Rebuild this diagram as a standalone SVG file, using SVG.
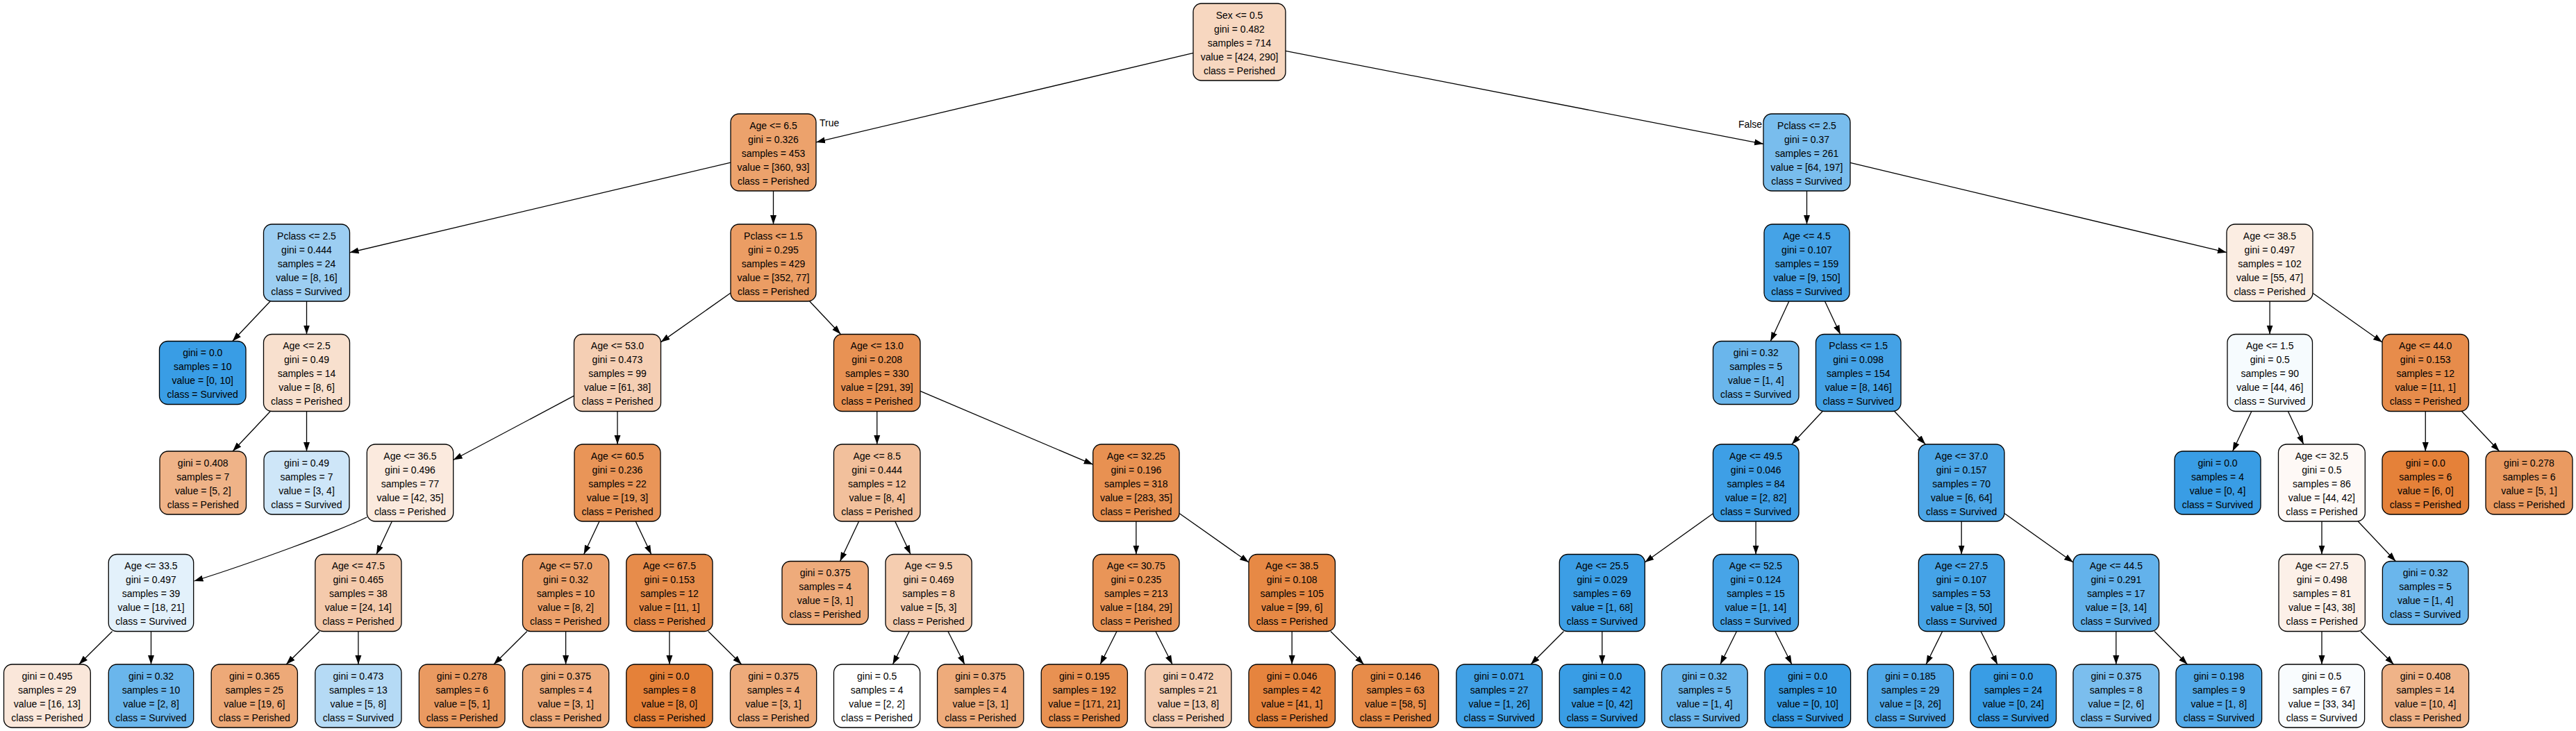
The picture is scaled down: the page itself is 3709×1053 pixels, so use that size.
<svg xmlns="http://www.w3.org/2000/svg" width="3709" height="1053" viewBox="0 0 3709 1053">
<defs>
<style>
.n rect{stroke:#000;stroke-width:1.3}
text{font-family:"Liberation Sans",Arial,Helvetica,sans-serif;font-size:14px;text-anchor:middle;fill:#000}
.lbl{text-anchor:start}
.e line,.e path{stroke:#000;stroke-width:1.3;fill:none;marker-end:url(#a)}
</style>
<marker id="a" markerWidth="13" markerHeight="10" refX="13" refY="5" orient="auto" markerUnits="userSpaceOnUse"><path d="M0,0.5 L13,5 L0,9.5 z" fill="#000"/></marker>
</defs>
<rect width="3709" height="1053" fill="#fff"/>
<g id="connectors" class="e">
<line x1="1718" y1="76.26" x2="1175" y2="204.93"/>
<line x1="1851" y1="73.44" x2="2539" y2="207.34"/>
<line x1="1052" y1="234.05" x2="503.5" y2="363.83"/>
<line x1="1113.5" y1="275" x2="1113.5" y2="323"/>
<line x1="389.07" y1="434" x2="334.73" y2="491.5"/>
<line x1="441.5" y1="434" x2="441.5" y2="481.5"/>
<line x1="1052" y1="421.92" x2="951.5" y2="492.87"/>
<line x1="1165.76" y1="434" x2="1210.49" y2="481.5"/>
<line x1="389.24" y1="592.5" x2="335.09" y2="650"/>
<line x1="441.5" y1="592.5" x2="441.5" y2="650"/>
<line x1="826.5" y1="570.19" x2="652.7" y2="662.47"/>
<line x1="889" y1="592.5" x2="889" y2="640"/>
<line x1="1262.75" y1="592.5" x2="1262.75" y2="640"/>
<line x1="1325" y1="563.44" x2="1573.7" y2="669.1"/>
<path d="M528.3,745 C490,764 360,812 279.5,837"/>
<line x1="564.39" y1="751" x2="542.01" y2="798.5"/>
<line x1="862.96" y1="751" x2="840.64" y2="798.5"/>
<line x1="915.2" y1="751" x2="937.7" y2="798.5"/>
<line x1="1236.62" y1="751" x2="1209.53" y2="808.5"/>
<line x1="1288.77" y1="751" x2="1311.08" y2="798.5"/>
<line x1="1635.85" y1="751" x2="1635.85" y2="798.5"/>
<line x1="1698" y1="739.41" x2="1798" y2="810.06"/>
<line x1="161.59" y1="909.5" x2="113.74" y2="957"/>
<line x1="217.5" y1="909.5" x2="217.5" y2="957"/>
<line x1="459.99" y1="909.5" x2="412.14" y2="957"/>
<line x1="515.9" y1="909.5" x2="515.9" y2="957"/>
<line x1="758.77" y1="909.5" x2="710.98" y2="957"/>
<line x1="814.6" y1="909.5" x2="814.6" y2="957"/>
<line x1="963.9" y1="909.5" x2="963.9" y2="957"/>
<line x1="1019.84" y1="909.5" x2="1067.73" y2="957"/>
<line x1="1309.26" y1="909.5" x2="1285.43" y2="957"/>
<line x1="1364.98" y1="909.5" x2="1388.84" y2="957"/>
<line x1="1607.99" y1="909.5" x2="1584.14" y2="957"/>
<line x1="1663.93" y1="909.5" x2="1687.97" y2="957"/>
<line x1="1860.2" y1="909.5" x2="1860.2" y2="957"/>
<line x1="1915.92" y1="909.5" x2="1963.62" y2="957"/>
<line x1="2601.5" y1="275" x2="2601.5" y2="323"/>
<line x1="2664" y1="234.41" x2="3206" y2="363.71"/>
<line x1="2575.86" y1="434" x2="2549.28" y2="491.5"/>
<line x1="2627.49" y1="434" x2="2649.76" y2="481.5"/>
<line x1="3268.1" y1="434" x2="3268.1" y2="481.5"/>
<line x1="3330" y1="422.32" x2="3430" y2="493"/>
<line x1="2624.12" y1="592.5" x2="2579.88" y2="640"/>
<line x1="2727.71" y1="592.5" x2="2772.24" y2="640"/>
<line x1="3241.91" y1="592.5" x2="3214.6" y2="650"/>
<line x1="3294.38" y1="592.5" x2="3316.77" y2="640"/>
<line x1="3492.25" y1="592.5" x2="3492.25" y2="650"/>
<line x1="3544.49" y1="592.5" x2="3598.66" y2="650"/>
<line x1="2466.5" y1="739.7" x2="2368.3" y2="809.98"/>
<line x1="2528.1" y1="751" x2="2528.1" y2="798.5"/>
<line x1="2824.2" y1="751" x2="2824.2" y2="798.5"/>
<line x1="2886" y1="739.5" x2="2985" y2="810"/>
<line x1="3343" y1="751" x2="3343" y2="798.5"/>
<line x1="3395.16" y1="751" x2="3449.35" y2="808.5"/>
<line x1="2251.45" y1="909.5" x2="2204.08" y2="957"/>
<line x1="2306.8" y1="909.5" x2="2306.8" y2="957"/>
<line x1="2500.48" y1="909.5" x2="2476.92" y2="957"/>
<line x1="2555.95" y1="909.5" x2="2579.88" y2="957"/>
<line x1="2796.73" y1="909.5" x2="2773.22" y2="957"/>
<line x1="2852.08" y1="909.5" x2="2875.94" y2="957"/>
<line x1="3046.8" y1="909.5" x2="3046.8" y2="957"/>
<line x1="3102.11" y1="909.5" x2="3149.45" y2="957"/>
<line x1="3343" y1="909.5" x2="3343" y2="957"/>
<line x1="3398.83" y1="909.5" x2="3446.5" y2="957"/>
</g>
<g id="edge-labels">
<text class="lbl" x="1180" y="181.7">True</text>
<text x="2520" y="184.3">False</text>
</g>
<g id="n0" class="n"><rect x="1718" y="5" width="133" height="111" rx="12" fill="#f7d7c0"/><text x="1784.5" y="26.7">Sex &lt;= 0.5<tspan x="1784.5" dy="20">gini = 0.482</tspan><tspan x="1784.5" dy="20">samples = 714</tspan><tspan x="1784.5" dy="20">value = [424, 290]</tspan><tspan x="1784.5" dy="20">class = Perished</tspan></text></g>
<g id="n1" class="n"><rect x="1052" y="164" width="123" height="111" rx="12" fill="#eca26c"/><text x="1113.5" y="185.7">Age &lt;= 6.5<tspan x="1113.5" dy="20">gini = 0.326</tspan><tspan x="1113.5" dy="20">samples = 453</tspan><tspan x="1113.5" dy="20">value = [360, 93]</tspan><tspan x="1113.5" dy="20">class = Perished</tspan></text></g>
<g id="n2" class="n"><rect x="2539" y="164" width="125" height="111" rx="12" fill="#79bded"/><text x="2601.5" y="185.7">Pclass &lt;= 2.5<tspan x="2601.5" dy="20">gini = 0.37</tspan><tspan x="2601.5" dy="20">samples = 261</tspan><tspan x="2601.5" dy="20">value = [64, 197]</tspan><tspan x="2601.5" dy="20">class = Survived</tspan></text></g>
<g id="n3" class="n"><rect x="379.5" y="323" width="124" height="111" rx="12" fill="#9ccef2"/><text x="441.5" y="344.7">Pclass &lt;= 2.5<tspan x="441.5" dy="20">gini = 0.444</tspan><tspan x="441.5" dy="20">samples = 24</tspan><tspan x="441.5" dy="20">value = [8, 16]</tspan><tspan x="441.5" dy="20">class = Survived</tspan></text></g>
<g id="n4" class="n"><rect x="1052" y="323" width="123" height="111" rx="12" fill="#eb9d64"/><text x="1113.5" y="344.7">Pclass &lt;= 1.5<tspan x="1113.5" dy="20">gini = 0.295</tspan><tspan x="1113.5" dy="20">samples = 429</tspan><tspan x="1113.5" dy="20">value = [352, 77]</tspan><tspan x="1113.5" dy="20">class = Perished</tspan></text></g>
<g id="n5" class="n"><rect x="2540" y="323" width="123" height="111" rx="12" fill="#45a3e7"/><text x="2601.5" y="344.7">Age &lt;= 4.5<tspan x="2601.5" dy="20">gini = 0.107</tspan><tspan x="2601.5" dy="20">samples = 159</tspan><tspan x="2601.5" dy="20">value = [9, 150]</tspan><tspan x="2601.5" dy="20">class = Survived</tspan></text></g>
<g id="n6" class="n"><rect x="3206" y="323" width="124" height="111" rx="12" fill="#fbede2"/><text x="3268" y="344.7">Age &lt;= 38.5<tspan x="3268" dy="20">gini = 0.497</tspan><tspan x="3268" dy="20">samples = 102</tspan><tspan x="3268" dy="20">value = [55, 47]</tspan><tspan x="3268" dy="20">class = Perished</tspan></text></g>
<g id="n7" class="n"><rect x="229.5" y="491.5" width="124.5" height="91" rx="12" fill="#399de5"/><text x="291.75" y="513.2">gini = 0.0<tspan x="291.75" dy="20">samples = 10</tspan><tspan x="291.75" dy="20">value = [0, 10]</tspan><tspan x="291.75" dy="20">class = Survived</tspan></text></g>
<g id="n8" class="n"><rect x="379.5" y="481.5" width="124" height="111" rx="12" fill="#f8e0ce"/><text x="441.5" y="503.2">Age &lt;= 2.5<tspan x="441.5" dy="20">gini = 0.49</tspan><tspan x="441.5" dy="20">samples = 14</tspan><tspan x="441.5" dy="20">value = [8, 6]</tspan><tspan x="441.5" dy="20">class = Perished</tspan></text></g>
<g id="n9" class="n"><rect x="826.5" y="481.5" width="125" height="111" rx="12" fill="#f5cfb4"/><text x="889" y="503.2">Age &lt;= 53.0<tspan x="889" dy="20">gini = 0.473</tspan><tspan x="889" dy="20">samples = 99</tspan><tspan x="889" dy="20">value = [61, 38]</tspan><tspan x="889" dy="20">class = Perished</tspan></text></g>
<g id="n10" class="n"><rect x="1200.5" y="481.5" width="124.5" height="111" rx="12" fill="#e89254"/><text x="1262.75" y="503.2">Age &lt;= 13.0<tspan x="1262.75" dy="20">gini = 0.208</tspan><tspan x="1262.75" dy="20">samples = 330</tspan><tspan x="1262.75" dy="20">value = [291, 39]</tspan><tspan x="1262.75" dy="20">class = Perished</tspan></text></g>
<g id="n11" class="n"><rect x="2466.5" y="491.5" width="123.5" height="91" rx="12" fill="#6ab6ec"/><text x="2528.25" y="513.2">gini = 0.32<tspan x="2528.25" dy="20">samples = 5</tspan><tspan x="2528.25" dy="20">value = [1, 4]</tspan><tspan x="2528.25" dy="20">class = Survived</tspan></text></g>
<g id="n12" class="n"><rect x="2614.5" y="481.5" width="122.5" height="111" rx="12" fill="#44a2e6"/><text x="2675.75" y="503.2">Pclass &lt;= 1.5<tspan x="2675.75" dy="20">gini = 0.098</tspan><tspan x="2675.75" dy="20">samples = 154</tspan><tspan x="2675.75" dy="20">value = [8, 146]</tspan><tspan x="2675.75" dy="20">class = Survived</tspan></text></g>
<g id="n13" class="n"><rect x="3207" y="481.5" width="122.5" height="111" rx="12" fill="#f6fbfe"/><text x="3268.25" y="503.2">Age &lt;= 1.5<tspan x="3268.25" dy="20">gini = 0.5</tspan><tspan x="3268.25" dy="20">samples = 90</tspan><tspan x="3268.25" dy="20">value = [44, 46]</tspan><tspan x="3268.25" dy="20">class = Survived</tspan></text></g>
<g id="n14" class="n"><rect x="3430" y="481.5" width="124.5" height="111" rx="12" fill="#e78c4b"/><text x="3492.25" y="503.2">Age &lt;= 44.0<tspan x="3492.25" dy="20">gini = 0.153</tspan><tspan x="3492.25" dy="20">samples = 12</tspan><tspan x="3492.25" dy="20">value = [11, 1]</tspan><tspan x="3492.25" dy="20">class = Perished</tspan></text></g>
<g id="n15" class="n"><rect x="230" y="650" width="124.5" height="91" rx="12" fill="#efb388"/><text x="292.25" y="671.7">gini = 0.408<tspan x="292.25" dy="20">samples = 7</tspan><tspan x="292.25" dy="20">value = [5, 2]</tspan><tspan x="292.25" dy="20">class = Perished</tspan></text></g>
<g id="n16" class="n"><rect x="380" y="650" width="123" height="91" rx="12" fill="#cee6f8"/><text x="441.5" y="671.7">gini = 0.49<tspan x="441.5" dy="20">samples = 7</tspan><tspan x="441.5" dy="20">value = [3, 4]</tspan><tspan x="441.5" dy="20">class = Survived</tspan></text></g>
<g id="n17" class="n"><rect x="528.3" y="640" width="124.4" height="111" rx="12" fill="#fbeade"/><text x="590.5" y="661.7">Age &lt;= 36.5<tspan x="590.5" dy="20">gini = 0.496</tspan><tspan x="590.5" dy="20">samples = 77</tspan><tspan x="590.5" dy="20">value = [42, 35]</tspan><tspan x="590.5" dy="20">class = Perished</tspan></text></g>
<g id="n18" class="n"><rect x="827" y="640" width="124" height="111" rx="12" fill="#e99558"/><text x="889" y="661.7">Age &lt;= 60.5<tspan x="889" dy="20">gini = 0.236</tspan><tspan x="889" dy="20">samples = 22</tspan><tspan x="889" dy="20">value = [19, 3]</tspan><tspan x="889" dy="20">class = Perished</tspan></text></g>
<g id="n19" class="n"><rect x="1200.5" y="640" width="124.5" height="111" rx="12" fill="#f2c09c"/><text x="1262.75" y="661.7">Age &lt;= 8.5<tspan x="1262.75" dy="20">gini = 0.444</tspan><tspan x="1262.75" dy="20">samples = 12</tspan><tspan x="1262.75" dy="20">value = [8, 4]</tspan><tspan x="1262.75" dy="20">class = Perished</tspan></text></g>
<g id="n20" class="n"><rect x="1573.7" y="640" width="124.3" height="111" rx="12" fill="#e89152"/><text x="1635.85" y="661.7">Age &lt;= 32.25<tspan x="1635.85" dy="20">gini = 0.196</tspan><tspan x="1635.85" dy="20">samples = 318</tspan><tspan x="1635.85" dy="20">value = [283, 35]</tspan><tspan x="1635.85" dy="20">class = Perished</tspan></text></g>
<g id="n21" class="n"><rect x="2466.5" y="640" width="123.5" height="111" rx="12" fill="#3e9fe6"/><text x="2528.25" y="661.7">Age &lt;= 49.5<tspan x="2528.25" dy="20">gini = 0.046</tspan><tspan x="2528.25" dy="20">samples = 84</tspan><tspan x="2528.25" dy="20">value = [2, 82]</tspan><tspan x="2528.25" dy="20">class = Survived</tspan></text></g>
<g id="n22" class="n"><rect x="2762.4" y="640" width="123.6" height="111" rx="12" fill="#4ca6e7"/><text x="2824.2" y="661.7">Age &lt;= 37.0<tspan x="2824.2" dy="20">gini = 0.157</tspan><tspan x="2824.2" dy="20">samples = 70</tspan><tspan x="2824.2" dy="20">value = [6, 64]</tspan><tspan x="2824.2" dy="20">class = Survived</tspan></text></g>
<g id="n23" class="n"><rect x="3131" y="650" width="124" height="91" rx="12" fill="#399de5"/><text x="3193" y="671.7">gini = 0.0<tspan x="3193" dy="20">samples = 4</tspan><tspan x="3193" dy="20">value = [0, 4]</tspan><tspan x="3193" dy="20">class = Survived</tspan></text></g>
<g id="n24" class="n"><rect x="3280.5" y="640" width="124.8" height="111" rx="12" fill="#fef9f6"/><text x="3342.9" y="661.7">Age &lt;= 32.5<tspan x="3342.9" dy="20">gini = 0.5</tspan><tspan x="3342.9" dy="20">samples = 86</tspan><tspan x="3342.9" dy="20">value = [44, 42]</tspan><tspan x="3342.9" dy="20">class = Perished</tspan></text></g>
<g id="n25" class="n"><rect x="3430" y="650" width="124.5" height="91" rx="12" fill="#e58139"/><text x="3492.25" y="671.7">gini = 0.0<tspan x="3492.25" dy="20">samples = 6</tspan><tspan x="3492.25" dy="20">value = [6, 0]</tspan><tspan x="3492.25" dy="20">class = Perished</tspan></text></g>
<g id="n26" class="n"><rect x="3579" y="650" width="125" height="91" rx="12" fill="#ea9a61"/><text x="3641.5" y="671.7">gini = 0.278<tspan x="3641.5" dy="20">samples = 6</tspan><tspan x="3641.5" dy="20">value = [5, 1]</tspan><tspan x="3641.5" dy="20">class = Perished</tspan></text></g>
<g id="n27" class="n"><rect x="156.3" y="798.5" width="122.4" height="111" rx="12" fill="#e3f1fb"/><text x="217.5" y="820.2">Age &lt;= 33.5<tspan x="217.5" dy="20">gini = 0.497</tspan><tspan x="217.5" dy="20">samples = 39</tspan><tspan x="217.5" dy="20">value = [18, 21]</tspan><tspan x="217.5" dy="20">class = Survived</tspan></text></g>
<g id="n28" class="n"><rect x="453.8" y="798.5" width="124.2" height="111" rx="12" fill="#f4caac"/><text x="515.9" y="820.2">Age &lt;= 47.5<tspan x="515.9" dy="20">gini = 0.465</tspan><tspan x="515.9" dy="20">samples = 38</tspan><tspan x="515.9" dy="20">value = [24, 14]</tspan><tspan x="515.9" dy="20">class = Perished</tspan></text></g>
<g id="n29" class="n"><rect x="752.5" y="798.5" width="124.2" height="111" rx="12" fill="#eca06a"/><text x="814.6" y="820.2">Age &lt;= 57.0<tspan x="814.6" dy="20">gini = 0.32</tspan><tspan x="814.6" dy="20">samples = 10</tspan><tspan x="814.6" dy="20">value = [8, 2]</tspan><tspan x="814.6" dy="20">class = Perished</tspan></text></g>
<g id="n30" class="n"><rect x="901.8" y="798.5" width="124.2" height="111" rx="12" fill="#e78c4b"/><text x="963.9" y="820.2">Age &lt;= 67.5<tspan x="963.9" dy="20">gini = 0.153</tspan><tspan x="963.9" dy="20">samples = 12</tspan><tspan x="963.9" dy="20">value = [11, 1]</tspan><tspan x="963.9" dy="20">class = Perished</tspan></text></g>
<g id="n31" class="n"><rect x="1126" y="808.5" width="124.2" height="91" rx="12" fill="#eeab7b"/><text x="1188.1" y="830.2">gini = 0.375<tspan x="1188.1" dy="20">samples = 4</tspan><tspan x="1188.1" dy="20">value = [3, 1]</tspan><tspan x="1188.1" dy="20">class = Perished</tspan></text></g>
<g id="n32" class="n"><rect x="1275" y="798.5" width="124.2" height="111" rx="12" fill="#f5cdb0"/><text x="1337.1" y="820.2">Age &lt;= 9.5<tspan x="1337.1" dy="20">gini = 0.469</tspan><tspan x="1337.1" dy="20">samples = 8</tspan><tspan x="1337.1" dy="20">value = [5, 3]</tspan><tspan x="1337.1" dy="20">class = Perished</tspan></text></g>
<g id="n33" class="n"><rect x="1573.7" y="798.5" width="124.3" height="111" rx="12" fill="#e99558"/><text x="1635.85" y="820.2">Age &lt;= 30.75<tspan x="1635.85" dy="20">gini = 0.235</tspan><tspan x="1635.85" dy="20">samples = 213</tspan><tspan x="1635.85" dy="20">value = [184, 29]</tspan><tspan x="1635.85" dy="20">class = Perished</tspan></text></g>
<g id="n34" class="n"><rect x="1798" y="798.5" width="124.4" height="111" rx="12" fill="#e78945"/><text x="1860.2" y="820.2">Age &lt;= 38.5<tspan x="1860.2" dy="20">gini = 0.108</tspan><tspan x="1860.2" dy="20">samples = 105</tspan><tspan x="1860.2" dy="20">value = [99, 6]</tspan><tspan x="1860.2" dy="20">class = Perished</tspan></text></g>
<g id="n35" class="n"><rect x="2245.3" y="798.5" width="123" height="111" rx="12" fill="#3c9ee5"/><text x="2306.8" y="820.2">Age &lt;= 25.5<tspan x="2306.8" dy="20">gini = 0.029</tspan><tspan x="2306.8" dy="20">samples = 69</tspan><tspan x="2306.8" dy="20">value = [1, 68]</tspan><tspan x="2306.8" dy="20">class = Survived</tspan></text></g>
<g id="n36" class="n"><rect x="2466.5" y="798.5" width="123" height="111" rx="12" fill="#47a4e7"/><text x="2528" y="820.2">Age &lt;= 52.5<tspan x="2528" dy="20">gini = 0.124</tspan><tspan x="2528" dy="20">samples = 15</tspan><tspan x="2528" dy="20">value = [1, 14]</tspan><tspan x="2528" dy="20">class = Survived</tspan></text></g>
<g id="n37" class="n"><rect x="2762.4" y="798.5" width="123.6" height="111" rx="12" fill="#45a3e7"/><text x="2824.2" y="820.2">Age &lt;= 27.5<tspan x="2824.2" dy="20">gini = 0.107</tspan><tspan x="2824.2" dy="20">samples = 53</tspan><tspan x="2824.2" dy="20">value = [3, 50]</tspan><tspan x="2824.2" dy="20">class = Survived</tspan></text></g>
<g id="n38" class="n"><rect x="2985" y="798.5" width="123.6" height="111" rx="12" fill="#63b2eb"/><text x="3046.8" y="820.2">Age &lt;= 44.5<tspan x="3046.8" dy="20">gini = 0.291</tspan><tspan x="3046.8" dy="20">samples = 17</tspan><tspan x="3046.8" dy="20">value = [3, 14]</tspan><tspan x="3046.8" dy="20">class = Survived</tspan></text></g>
<g id="n39" class="n"><rect x="3281" y="798.5" width="124.3" height="111" rx="12" fill="#fcf0e8"/><text x="3343.15" y="820.2">Age &lt;= 27.5<tspan x="3343.15" dy="20">gini = 0.498</tspan><tspan x="3343.15" dy="20">samples = 81</tspan><tspan x="3343.15" dy="20">value = [43, 38]</tspan><tspan x="3343.15" dy="20">class = Perished</tspan></text></g>
<g id="n40" class="n"><rect x="3430.4" y="808.5" width="123.6" height="91" rx="12" fill="#6ab6ec"/><text x="3492.2" y="830.2">gini = 0.32<tspan x="3492.2" dy="20">samples = 5</tspan><tspan x="3492.2" dy="20">value = [1, 4]</tspan><tspan x="3492.2" dy="20">class = Survived</tspan></text></g>
<g id="n41" class="n"><rect x="5.5" y="957" width="124.8" height="91" rx="12" fill="#fae7da"/><text x="67.9" y="978.7">gini = 0.495<tspan x="67.9" dy="20">samples = 29</tspan><tspan x="67.9" dy="20">value = [16, 13]</tspan><tspan x="67.9" dy="20">class = Perished</tspan></text></g>
<g id="n42" class="n"><rect x="156.3" y="957" width="122.4" height="91" rx="12" fill="#6ab6ec"/><text x="217.5" y="978.7">gini = 0.32<tspan x="217.5" dy="20">samples = 10</tspan><tspan x="217.5" dy="20">value = [2, 8]</tspan><tspan x="217.5" dy="20">class = Survived</tspan></text></g>
<g id="n43" class="n"><rect x="304.2" y="957" width="124.2" height="91" rx="12" fill="#eda978"/><text x="366.3" y="978.7">gini = 0.365<tspan x="366.3" dy="20">samples = 25</tspan><tspan x="366.3" dy="20">value = [19, 6]</tspan><tspan x="366.3" dy="20">class = Perished</tspan></text></g>
<g id="n44" class="n"><rect x="453.8" y="957" width="124.2" height="91" rx="12" fill="#b5daf5"/><text x="515.9" y="978.7">gini = 0.473<tspan x="515.9" dy="20">samples = 13</tspan><tspan x="515.9" dy="20">value = [5, 8]</tspan><tspan x="515.9" dy="20">class = Survived</tspan></text></g>
<g id="n45" class="n"><rect x="603.4" y="957" width="123.6" height="91" rx="12" fill="#ea9a61"/><text x="665.2" y="978.7">gini = 0.278<tspan x="665.2" dy="20">samples = 6</tspan><tspan x="665.2" dy="20">value = [5, 1]</tspan><tspan x="665.2" dy="20">class = Perished</tspan></text></g>
<g id="n46" class="n"><rect x="752.5" y="957" width="124.2" height="91" rx="12" fill="#eeab7b"/><text x="814.6" y="978.7">gini = 0.375<tspan x="814.6" dy="20">samples = 4</tspan><tspan x="814.6" dy="20">value = [3, 1]</tspan><tspan x="814.6" dy="20">class = Perished</tspan></text></g>
<g id="n47" class="n"><rect x="901.8" y="957" width="124.2" height="91" rx="12" fill="#e58139"/><text x="963.9" y="978.7">gini = 0.0<tspan x="963.9" dy="20">samples = 8</tspan><tspan x="963.9" dy="20">value = [8, 0]</tspan><tspan x="963.9" dy="20">class = Perished</tspan></text></g>
<g id="n48" class="n"><rect x="1051.5" y="957" width="124.2" height="91" rx="12" fill="#eeab7b"/><text x="1113.6" y="978.7">gini = 0.375<tspan x="1113.6" dy="20">samples = 4</tspan><tspan x="1113.6" dy="20">value = [3, 1]</tspan><tspan x="1113.6" dy="20">class = Perished</tspan></text></g>
<g id="n49" class="n"><rect x="1200.5" y="957" width="124.2" height="91" rx="12" fill="#ffffff"/><text x="1262.6" y="978.7">gini = 0.5<tspan x="1262.6" dy="20">samples = 4</tspan><tspan x="1262.6" dy="20">value = [2, 2]</tspan><tspan x="1262.6" dy="20">class = Perished</tspan></text></g>
<g id="n50" class="n"><rect x="1349.6" y="957" width="124.2" height="91" rx="12" fill="#eeab7b"/><text x="1411.7" y="978.7">gini = 0.375<tspan x="1411.7" dy="20">samples = 4</tspan><tspan x="1411.7" dy="20">value = [3, 1]</tspan><tspan x="1411.7" dy="20">class = Perished</tspan></text></g>
<g id="n51" class="n"><rect x="1499.2" y="957" width="124.2" height="91" rx="12" fill="#e89152"/><text x="1561.3" y="978.7">gini = 0.195<tspan x="1561.3" dy="20">samples = 192</tspan><tspan x="1561.3" dy="20">value = [171, 21]</tspan><tspan x="1561.3" dy="20">class = Perished</tspan></text></g>
<g id="n52" class="n"><rect x="1648.9" y="957" width="124.1" height="91" rx="12" fill="#f5ceb3"/><text x="1711" y="978.7">gini = 0.472<tspan x="1711" dy="20">samples = 21</tspan><tspan x="1711" dy="20">value = [13, 8]</tspan><tspan x="1711" dy="20">class = Perished</tspan></text></g>
<g id="n53" class="n"><rect x="1798" y="957" width="124.4" height="91" rx="12" fill="#e6843e"/><text x="1860.2" y="978.7">gini = 0.046<tspan x="1860.2" dy="20">samples = 42</tspan><tspan x="1860.2" dy="20">value = [41, 1]</tspan><tspan x="1860.2" dy="20">class = Perished</tspan></text></g>
<g id="n54" class="n"><rect x="1947.2" y="957" width="124.2" height="91" rx="12" fill="#e78c4a"/><text x="2009.3" y="978.7">gini = 0.146<tspan x="2009.3" dy="20">samples = 63</tspan><tspan x="2009.3" dy="20">value = [58, 5]</tspan><tspan x="2009.3" dy="20">class = Perished</tspan></text></g>
<g id="n55" class="n"><rect x="2096.9" y="957" width="123.6" height="91" rx="12" fill="#41a1e6"/><text x="2158.7" y="978.7">gini = 0.071<tspan x="2158.7" dy="20">samples = 27</tspan><tspan x="2158.7" dy="20">value = [1, 26]</tspan><tspan x="2158.7" dy="20">class = Survived</tspan></text></g>
<g id="n56" class="n"><rect x="2245.3" y="957" width="123" height="91" rx="12" fill="#399de5"/><text x="2306.8" y="978.7">gini = 0.0<tspan x="2306.8" dy="20">samples = 42</tspan><tspan x="2306.8" dy="20">value = [0, 42]</tspan><tspan x="2306.8" dy="20">class = Survived</tspan></text></g>
<g id="n57" class="n"><rect x="2392.5" y="957" width="123.7" height="91" rx="12" fill="#6ab6ec"/><text x="2454.35" y="978.7">gini = 0.32<tspan x="2454.35" dy="20">samples = 5</tspan><tspan x="2454.35" dy="20">value = [1, 4]</tspan><tspan x="2454.35" dy="20">class = Survived</tspan></text></g>
<g id="n58" class="n"><rect x="2541" y="957" width="123.6" height="91" rx="12" fill="#399de5"/><text x="2602.8" y="978.7">gini = 0.0<tspan x="2602.8" dy="20">samples = 10</tspan><tspan x="2602.8" dy="20">value = [0, 10]</tspan><tspan x="2602.8" dy="20">class = Survived</tspan></text></g>
<g id="n59" class="n"><rect x="2688.8" y="957" width="123.8" height="91" rx="12" fill="#50a8e8"/><text x="2750.7" y="978.7">gini = 0.185<tspan x="2750.7" dy="20">samples = 29</tspan><tspan x="2750.7" dy="20">value = [3, 26]</tspan><tspan x="2750.7" dy="20">class = Survived</tspan></text></g>
<g id="n60" class="n"><rect x="2837" y="957" width="123.6" height="91" rx="12" fill="#399de5"/><text x="2898.8" y="978.7">gini = 0.0<tspan x="2898.8" dy="20">samples = 24</tspan><tspan x="2898.8" dy="20">value = [0, 24]</tspan><tspan x="2898.8" dy="20">class = Survived</tspan></text></g>
<g id="n61" class="n"><rect x="2985" y="957" width="123.6" height="91" rx="12" fill="#7bbeee"/><text x="3046.8" y="978.7">gini = 0.375<tspan x="3046.8" dy="20">samples = 8</tspan><tspan x="3046.8" dy="20">value = [2, 6]</tspan><tspan x="3046.8" dy="20">class = Survived</tspan></text></g>
<g id="n62" class="n"><rect x="3133" y="957" width="123.6" height="91" rx="12" fill="#52a9e8"/><text x="3194.8" y="978.7">gini = 0.198<tspan x="3194.8" dy="20">samples = 9</tspan><tspan x="3194.8" dy="20">value = [1, 8]</tspan><tspan x="3194.8" dy="20">class = Survived</tspan></text></g>
<g id="n63" class="n"><rect x="3281" y="957" width="123.6" height="91" rx="12" fill="#f9fcfe"/><text x="3342.8" y="978.7">gini = 0.5<tspan x="3342.8" dy="20">samples = 67</tspan><tspan x="3342.8" dy="20">value = [33, 34]</tspan><tspan x="3342.8" dy="20">class = Survived</tspan></text></g>
<g id="n64" class="n"><rect x="3429.7" y="957" width="124.9" height="91" rx="12" fill="#efb388"/><text x="3492.15" y="978.7">gini = 0.408<tspan x="3492.15" dy="20">samples = 14</tspan><tspan x="3492.15" dy="20">value = [10, 4]</tspan><tspan x="3492.15" dy="20">class = Perished</tspan></text></g>
</svg>
